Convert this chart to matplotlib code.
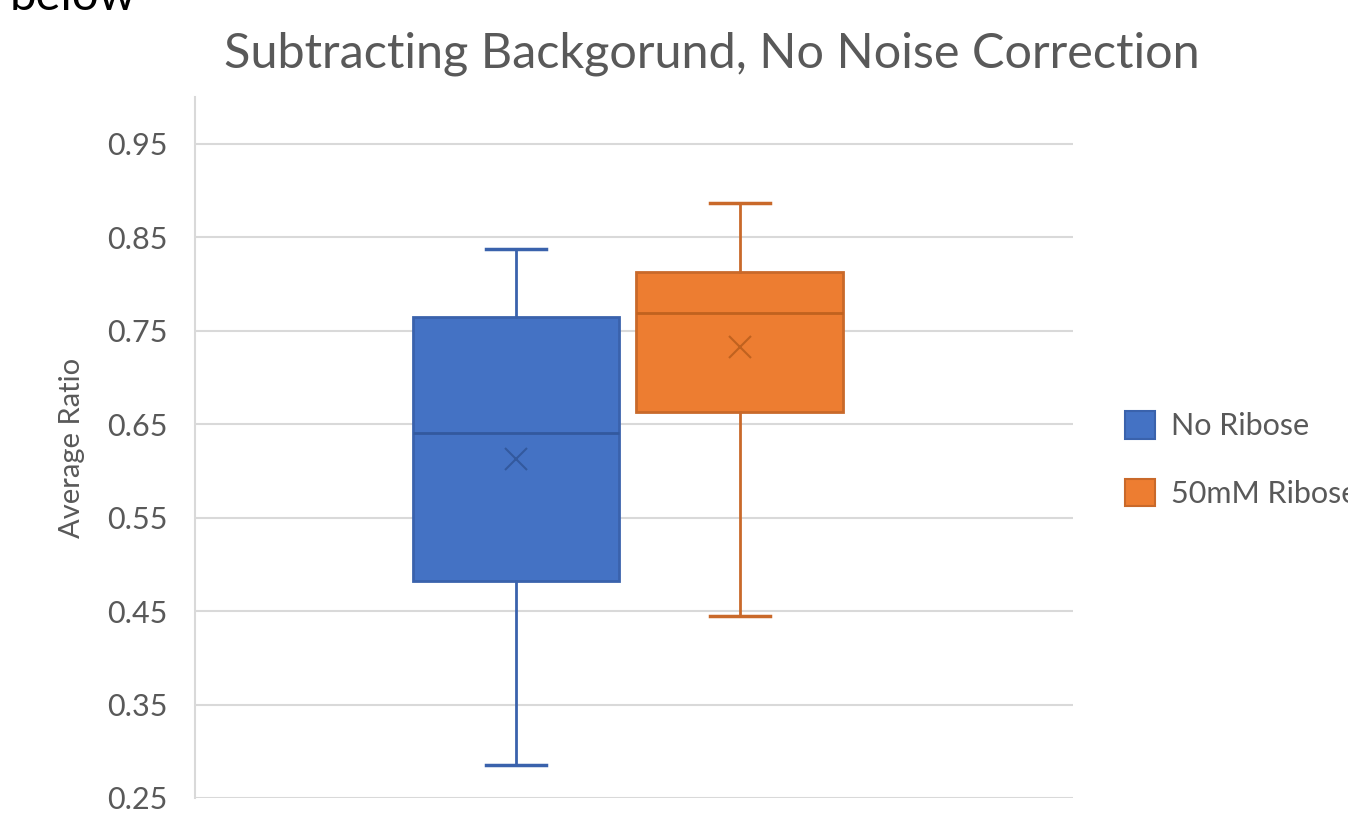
import matplotlib
matplotlib.use("Agg")

import matplotlib.pyplot as plt
from matplotlib.patches import Patch

plt.rcParams["font.family"] = ["Lato", "DejaVu Sans"]

# values
groups = ["No Ribose", "50mM Ribose"]
whisker_low = [0.285, 0.445]
q1 = [0.482, 0.663]
median = [0.640, 0.769]
q3 = [0.765, 0.813]
whisker_high = [0.837, 0.887]
mean = [0.613, 0.732]

face_colors = ["#4472C4", "#ED7D31"]
edge_colors = ["#3A62AC", "#C9692A"]
median_colors = ["#33599E", "#C0621F"]
text_color = "#595959"
grid_color = "#D9D9D9"

y_ticks = [0.25, 0.35, 0.45, 0.55, 0.65, 0.75, 0.85, 0.95]

fig = plt.figure(figsize=(13.48, 8.22), dpi=100)
ax = fig.add_axes([0.1447, 0.0292, 0.6513, 0.8528])

positions = [1, 2]
for i, name in enumerate(groups):
    stats = [{
        "label": name,
        "whislo": whisker_low[i],
        "q1": q1[i],
        "med": median[i],
        "q3": q3[i],
        "whishi": whisker_high[i],
        "mean": mean[i],
    }]
    ax.bxp(
        stats,
        positions=[positions[i]],
        widths=0.924,
        patch_artist=True,
        showmeans=True,
        showfliers=False,
        boxprops=dict(facecolor=face_colors[i], edgecolor=edge_colors[i], linewidth=2),
        medianprops=dict(color=median_colors[i], linewidth=2),
        whiskerprops=dict(color=edge_colors[i], linewidth=2),
        capprops=dict(color=edge_colors[i], linewidth=2.5),
        capwidths=0.27,
        meanprops=dict(marker="x", markersize=16, markeredgewidth=1.5,
                       markeredgecolor=median_colors[i]),
        zorder=3,
    )

ax.set_xlim(-0.433, 3.487)
ax.set_ylim(0.25, 1.0)
ax.set_yticks(y_ticks)
ax.set_yticklabels([f"{t:.2f}" for t in y_ticks])
ax.set_xticks([])
ax.tick_params(axis="y", length=0, pad=20, labelsize=22, labelcolor=text_color)
ax.yaxis.grid(True, color=grid_color, linewidth=1.5)
ax.set_axisbelow(True)

for side in ["top", "right", "bottom"]:
    ax.spines[side].set_visible(False)
ax.spines["left"].set_color(grid_color)
ax.spines["left"].set_linewidth(1.5)

ax.set_ylabel("Average Ratio", fontsize=21, color=text_color, labelpad=16)

fig.text(712 / 1348, 1 - 68 / 822, "Subtracting Backgorund, No Noise Correction",
         fontsize=35, color=text_color, ha="center", va="baseline")

# legend runs past the right edge, as in the original screenshot
handles = [Patch(facecolor=face_colors[i], edgecolor=edge_colors[i], linewidth=1.5)
           for i in range(len(groups))]
ax.legend(handles, groups, loc="center left", bbox_to_anchor=(1.059, 0.483),
          frameon=False, fontsize=22, labelcolor=text_color, borderpad=0,
          borderaxespad=0, handlelength=1.0, handleheight=1.0,
          handletextpad=0.5, labelspacing=1.25)

fig.text(10 / 1348, 1 - 10 / 822, "below", fontsize=34, color="black",
         ha="left", va="baseline")

fig.savefig("out.png", dpi=100)
plt.close(fig)
